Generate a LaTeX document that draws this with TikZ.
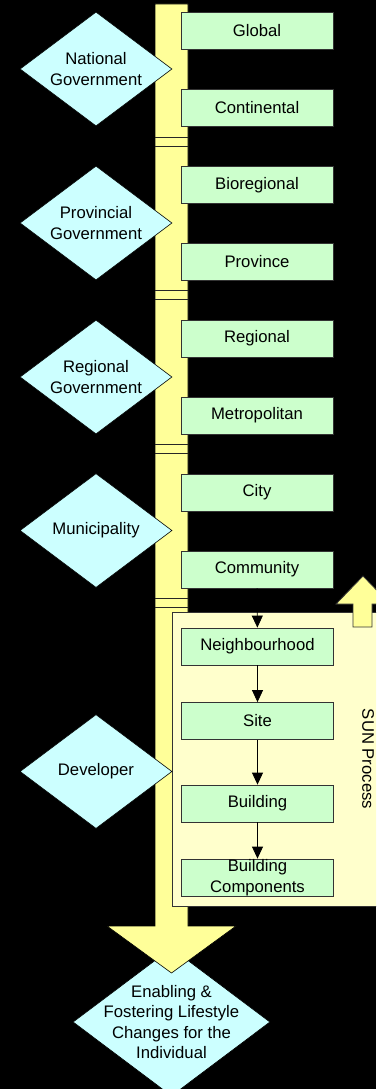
\documentclass[tikz,border=0pt]{standalone}
\usepackage{fontspec}
\setmainfont{Liberation Sans}
\usetikzlibrary{shapes.geometric,arrows.meta}
\definecolor{boxgreen}{HTML}{CCFFCC}
\definecolor{diacyan}{HTML}{CCFFFF}
\definecolor{baryellow}{HTML}{FFFF99}
\definecolor{sunyellow}{HTML}{FFFFCC}
\definecolor{edgegray}{HTML}{333333}
\begin{document}
\begin{tikzpicture}[x=1pt,y=-1pt,
  gbox/.style={draw=edgegray, fill=boxgreen, minimum width=152pt, minimum height=37pt,
    inner sep=0pt, line width=0.8pt, align=center, font=\fontsize{16.7}{20.6}\selectfont},
  dia/.style={diamond, draw=black, fill=diacyan, inner sep=0pt, line width=0.6pt},
  lbl/.style={align=center, inner sep=0pt, font=\fontsize{16.7}{20.6}\selectfont},
  flow/.style={-{Triangle[length=12pt,width=11pt]}, line width=0.8pt, black},
  sepline/.style={draw=black!85, line width=0.8pt}]
\useasboundingbox (0,0) rectangle (376,1089);
\clip (0,0) rectangle (376,1089);
\fill[black] (0,0) rectangle (376,1089);

% final diamond (under the big arrow)
\node[dia, minimum width=197pt, minimum height=148pt] (indiv) at (171.5,1022) {};

% big yellow bar with arrow head
\draw[fill=baryellow, draw=black, line width=0.6pt]
  (155,4) -- (188,4) -- (188,926) -- (236,926) -- (171.5,973) -- (107,926) -- (155,926) -- cycle;
\foreach \ya/\yb in {137/146, 290/299, 444/453, 598/607}{
  \draw[sepline] (155,\ya) -- (188,\ya);
  \draw[sepline] (155,\yb) -- (188,\yb);
}

% SUN process box
\node[draw=edgegray, fill=sunyellow, line width=0.8pt, minimum width=220pt, minimum height=294pt,
  anchor=north west, inner sep=0pt] (sun) at (172,612) {};
% up arrow
\draw[fill=baryellow, draw=edgegray, line width=0.8pt]
  (353,627) -- (353,604) -- (336,604) -- (363,576) -- (390,604) -- (372,604) -- (372,627) -- cycle;
\node[lbl, rotate=-90] (suntxt) at (368,759) {SUN Process};

% green boxes
\node[gbox] (global) at (257,30.5) {Global};
\node[gbox] (continental) at (257,108) {Continental};
\node[gbox] (bioreg) at (257,185) {Bioregional};
\node[gbox] (province) at (257,261.5) {Province};
\node[gbox] (regional) at (257,338.5) {Regional};
\node[gbox] (metro) at (257,415.5) {Metropolitan};
\node[gbox] (city) at (257,492.5) {City};
\node[gbox] (community) at (257,569.5) {Community};
\node[gbox] (neigh) at (257.5,646.5) {Neighbourhood};
\node[gbox] (site) at (257.5,721) {Site};
\node[gbox] (building) at (257.5,803.5) {Building};
\node[gbox] (bcomp) at (257.5,877.5) {Building\\Components};

\draw[flow] (community) -- (neigh);
\draw[flow] (neigh) -- (site);
\draw[flow] (site) -- (building);
\draw[flow] (building) -- (bcomp);

% left diamonds
\node[dia, minimum width=152pt, minimum height=114pt] (natgov) at (96,69) {};
\node[lbl] (natgovt) at (natgov) {National\\Government};
\node[dia, minimum width=152pt, minimum height=114pt] (provgov) at (96,223) {};
\node[lbl] (provgovt) at (provgov) {Provincial\\Government};
\node[dia, minimum width=152pt, minimum height=114pt] (reggov) at (96,377) {};
\node[lbl] (reggovt) at (reggov) {Regional\\Government};
\node[dia, minimum width=152pt, minimum height=114pt] (muni) at (96,530.5) {};
\node[lbl] (munit) at (muni) {Municipality};
\node[dia, minimum width=152pt, minimum height=114pt] (dev) at (96,771.5) {};
\node[lbl] (devt) at (dev) {Developer};

\node[lbl] (indivt) at (indiv) {Enabling \&\\Fostering Lifestyle\\Changes for the\\Individual};
\end{tikzpicture}
\end{document}
